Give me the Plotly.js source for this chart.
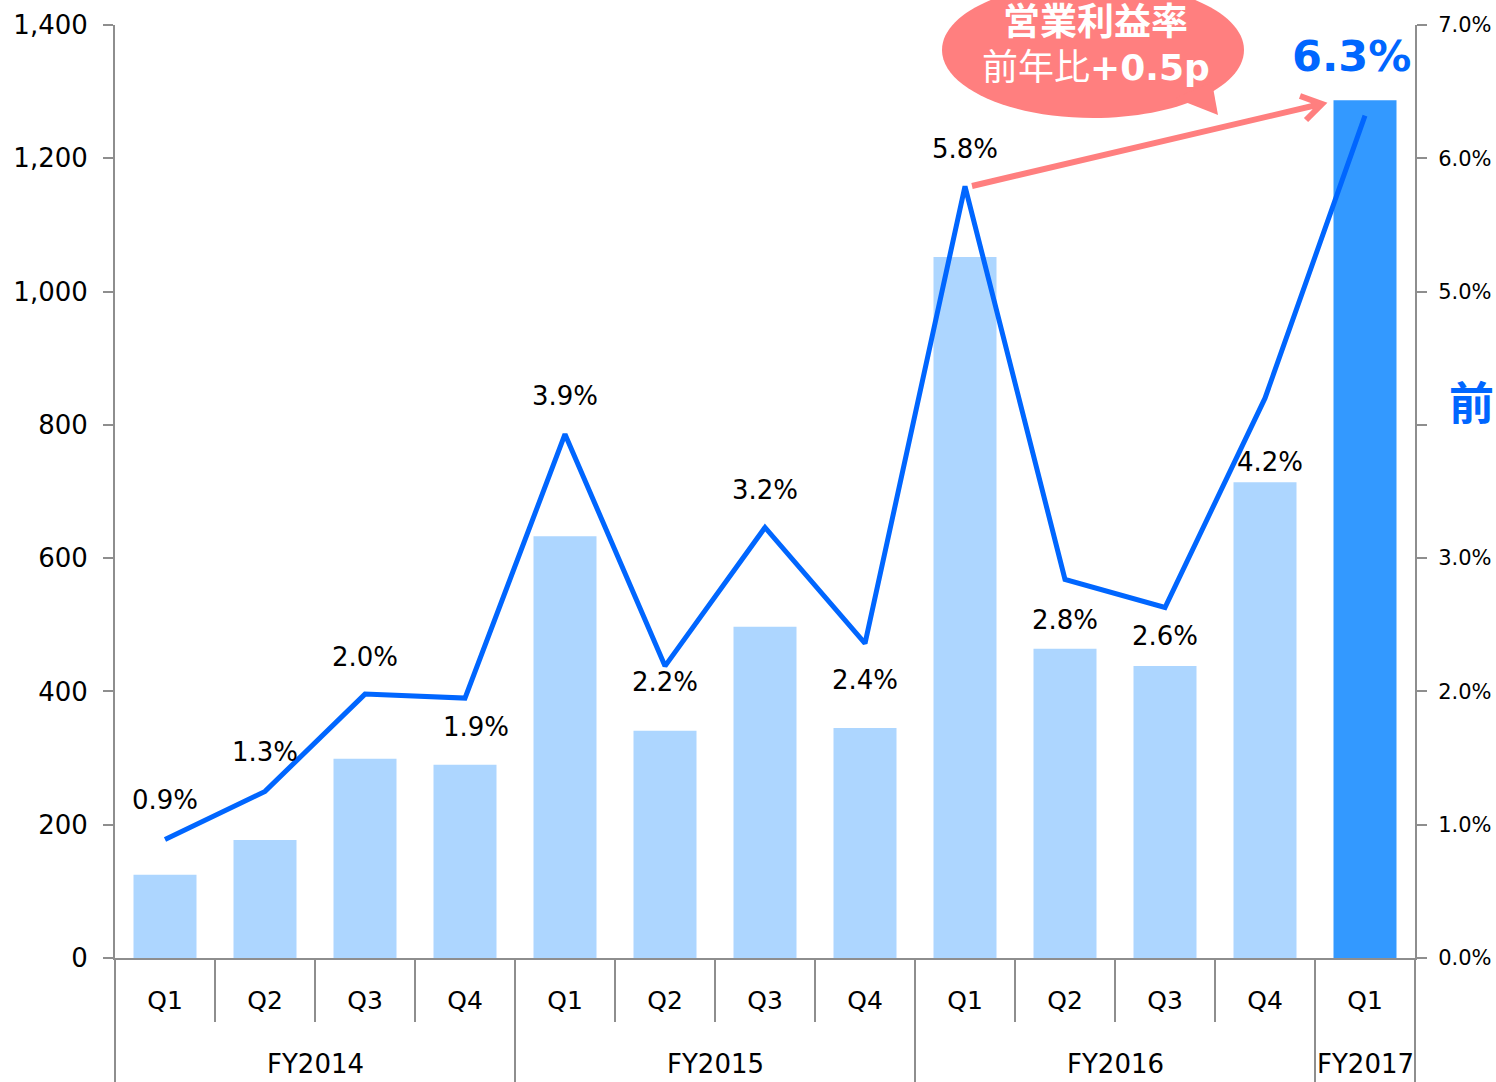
<!DOCTYPE html>
<html><head><meta charset="utf-8">
<script src="https://cdn.plot.ly/plotly-3.0.1.min.js"></script>
<style>html,body{margin:0;padding:0;background:#fff;} #chart{width:1496px;height:1082px;}</style>
</head><body><div id="chart"></div>
<script>
// ---- data ----
const fiscalYears = ['FY2014','FY2014','FY2014','FY2014','FY2015','FY2015','FY2015','FY2015','FY2016','FY2016','FY2016','FY2016','FY2017'];
const quarters = ['Q1','Q2','Q3','Q4','Q1','Q2','Q3','Q4','Q1','Q2','Q3','Q4','Q1'];
const operatingProfit = [125, 177, 299, 290, 633, 341, 497, 345, 1052, 464, 438, 714, 1287];
const marginPct = [0.89, 1.25, 1.98, 1.95, 3.93, 2.19, 3.23, 2.36, 5.79, 2.84, 2.63, 4.20, 6.32];
const marginLabels = ['0.9%','1.3%','2.0%','1.9%','3.9%','2.2%','3.2%','2.4%','5.8%','2.8%','2.6%','4.2%','6.3%'];
const leftTickVals = [0, 200, 400, 600, 800, 1000, 1200, 1400];
const rightTickVals = [0, 1, 2, 3, 4, 5, 6, 7];
const rightTickText = ['0.0%','1.0%','2.0%','3.0%','','5.0%','6.0%','7.0%'];
const fyGroups = ['FY2014','FY2015','FY2016','FY2017'];
const calloutLine1 = '営業利益率';
const calloutLine2a = '前年比';
const calloutLine2b = '+0.5p';
const sideText = '前';

// ---- layout helpers ----
const W = 1496, H = 1082, ML = 115, MR = 81, MT = 25, MB = 124;
const PW = W - ML - MR, PH = H - MT - MB;
const px = v => (v - ML) / PW;
const py = v => (H - MB - v) / PH;
const cats = fiscalYears.map((f, i) => f + ' ' + quarters[i]);
const n = cats.length;
const FONT = 'DejaVu Sans, Noto Sans CJK JP, sans-serif';
const GRAY = '#8E8E8E';
const PINK = '#FF7F7F';
const BLUE = '#0066FF';

const barColors = cats.map((c, i) => i === n - 1 ? '#3399FF' : '#ADD6FF');

const traces = [
  {type: 'bar', x: cats, y: operatingProfit, marker: {color: barColors, line: {width: 0}},
   hoverinfo: 'skip', yaxis: 'y'},
  {type: 'scatter', mode: 'lines', x: cats, y: marginPct, yaxis: 'y2',
   line: {color: BLUE, width: 5}, hoverinfo: 'skip'}
];

// label offsets (px) relative to line points
const labelShift = [[0,39],[0,39],[0,37],[11,-29],[0,38],[0,-16],[0,37],[0,-37],[0,37],[0,-41],[0,-29],[5,-64],[-14,60]];

const annotations = [];
marginLabels.forEach((t, i) => {
  const last = i === n - 1;
  annotations.push({
    x: cats[i], y: marginPct[i], xref: 'x', yref: 'y2', text: t, showarrow: false,
    xshift: labelShift[i][0], yshift: labelShift[i][1], xanchor: 'center', yanchor: 'middle',
    font: last ? {family: FONT, size: 43, color: BLUE, weight: 'bold'} : {family: FONT, size: 26, color: '#000'}
  });
});
// fiscal year group labels
const groupCenters = fyGroups.map(g => {
  const idx = fiscalYears.map((f, i) => f === g ? i : -1).filter(i => i >= 0);
  return (idx[0] + idx[idx.length - 1]) / 2;
});
fyGroups.forEach((g, k) => {
  annotations.push({x: px(ML + (groupCenters[k] + 0.5) * PW / n), y: py(1064), xref: 'paper', yref: 'paper',
    text: g, showarrow: false, xanchor: 'center', yanchor: 'middle', font: {family: FONT, size: 26, color: '#000'}});
});
// callout text
annotations.push({x: px(1095), y: py(22), xref: 'paper', yref: 'paper', text: '<b>' + calloutLine1 + '</b>',
  showarrow: false, xanchor: 'center', yanchor: 'middle', font: {family: FONT, size: 37, color: '#fff'}});
annotations.push({x: px(1096), y: py(68), xref: 'paper', yref: 'paper', text: calloutLine2a + '<b>' + calloutLine2b + '</b>',
  showarrow: false, xanchor: 'center', yanchor: 'middle', font: {family: FONT, size: 36, color: '#fff'}});
annotations.push({x: px(1495), y: py(405), xref: 'paper', yref: 'paper', text: '<b>' + sideText + '</b>',
  showarrow: false, xanchor: 'right', yanchor: 'middle', borderpad: 0,
  font: {family: FONT, size: 45, color: BLUE}});

// shapes: dividers and ticks under x axis
const shapes = [];
for (let k = 0; k <= n; k++) {
  const isGroupEdge = k === 0 || k === n || fiscalYears[k] !== fiscalYears[k - 1];
  shapes.push({type: 'line', xref: 'paper', yref: 'paper', x0: k / n, x1: k / n, y0: 0,
    y1: py(isGroupEdge ? 1084 : 1022), line: {color: GRAY, width: 2}});
}
// callout bubble (ellipse + tail) built from pixel geometry
const P = (a, b) => px(a) + ',' + py(b);
function ellipsePath(cx, cy, rx, ry) {
  const k = 0.5523;
  return 'M' + P(cx + rx, cy) +
    ' C' + P(cx + rx, cy + k * ry) + ' ' + P(cx + k * rx, cy + ry) + ' ' + P(cx, cy + ry) +
    ' C' + P(cx - k * rx, cy + ry) + ' ' + P(cx - rx, cy + k * ry) + ' ' + P(cx - rx, cy) +
    ' C' + P(cx - rx, cy - k * ry) + ' ' + P(cx - k * rx, cy - ry) + ' ' + P(cx, cy - ry) +
    ' C' + P(cx + k * rx, cy - ry) + ' ' + P(cx + rx, cy - k * ry) + ' ' + P(cx + rx, cy) + ' Z';
}
shapes.push({type: 'path', xref: 'paper', yref: 'paper', path: ellipsePath(1093, 50, 151, 68),
  fillcolor: PINK, line: {width: 0}, layer: 'above'});
shapes.push({type: 'path', xref: 'paper', yref: 'paper',
  path: 'M' + P(1175, 98) + ' L' + P(1218, 115) + ' L' + P(1212, 82) + ' Z',
  fillcolor: PINK, line: {width: 0}, layer: 'above'});
// pink arrow
shapes.push({type: 'path', xref: 'paper', yref: 'paper',
  path: 'M' + P(972, 186) + ' L' + P(1321, 104) + ' M' + P(1300, 96) + ' L' + P(1322, 104) + ' L' + P(1306, 120),
  line: {color: PINK, width: 6}, layer: 'above'});

const layout = {
  width: W, height: H,
  margin: {l: ML, r: MR, t: MT, b: MB, pad: 0},
  paper_bgcolor: '#fff', plot_bgcolor: '#fff',
  showlegend: false,
  bargap: 0.37,
  font: {family: FONT, color: '#000'},
  xaxis: {type: 'category', categoryorder: 'array', categoryarray: cats, range: [-0.5, n - 0.5],
    tickvals: cats, ticktext: quarters, ticks: '', showgrid: false, zeroline: false,
    showline: true, linecolor: GRAY, linewidth: 2, tickfont: {family: FONT, size: 25, color: '#000'},
    ticklabelstandoff: 19, fixedrange: true},
  yaxis: {range: [0, 1400], tickvals: leftTickVals, tickformat: ',', showgrid: false, zeroline: false,
    showline: true, linecolor: GRAY, linewidth: 2, ticks: 'outside', ticklen: 10, tickwidth: 2, tickcolor: GRAY,
    tickfont: {family: FONT, size: 26, color: '#000'}, ticklabelstandoff: 10},
  yaxis2: {range: [0, 7], overlaying: 'y', side: 'right', tickvals: rightTickVals, ticktext: rightTickText,
    showgrid: false, zeroline: false, showline: true, linecolor: GRAY, linewidth: 2, ticks: 'outside',
    ticklen: 10, tickwidth: 2, tickcolor: GRAY, tickfont: {family: FONT, size: 21, color: '#000'},
    ticklabelstandoff: 7},
  annotations: annotations,
  shapes: shapes
};

Plotly.newPlot('chart', traces, layout, {displayModeBar: false, staticPlot: true});
</script>
</body></html>
